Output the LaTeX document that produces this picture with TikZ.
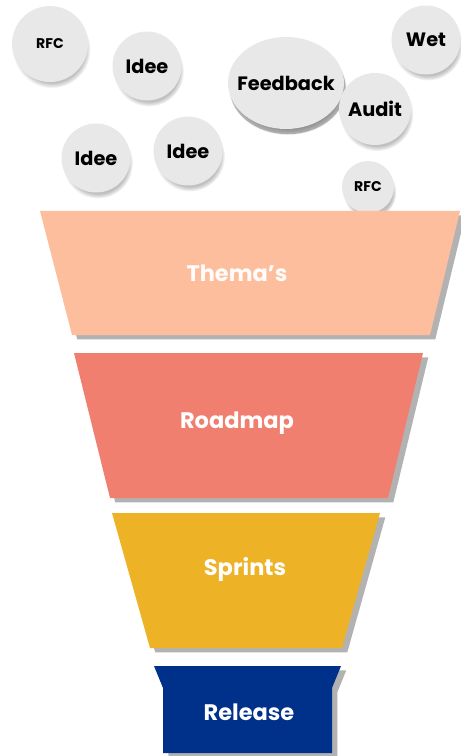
\documentclass[tikz,border=0pt]{standalone}
\usepackage{fontspec}
\setmainfont{Poppins}
\usetikzlibrary{shapes.geometric,shadows}
\definecolor{bubblegrey}{HTML}{E8E8E8}
\definecolor{themacol}{HTML}{FDBE9E}
\definecolor{roadcol}{HTML}{F07F70}
\definecolor{sprintcol}{HTML}{EEB226}
\definecolor{releasecol}{HTML}{00318A}

\begin{document}
\begin{tikzpicture}[x=0.02cm,y=-0.02cm]
\tikzset{bubble/.style = {shape=circle,fill=bubblegrey,inner sep=0pt,font=\bfseries\fontsize{11}{13}\selectfont,
  circular drop shadow={shadow xshift=1pt,shadow yshift=-3pt,shadow scale=1.02,opacity=.5}}}
\tikzset{stage/.style = {drop shadow={shadow xshift=3pt,shadow yshift=-2.5pt,opacity=.3,fill=black}}}
\tikzset{stagetext/.style = {text=white,font=\bfseries\fontsize{12.8}{15}\selectfont}}
\useasboundingbox (0,0) rectangle (460,756);

%ideas
\node[bubble,minimum size=1.52cm,font=\bfseries\fontsize{8}{10}\selectfont] (rfca) at (50,44) {RFC};
\node[bubble,minimum size=1.38cm] (ideea) at (147,66) {Idee};
\node[bubble,shape=ellipse,inner xsep=-8pt,minimum width=2.32cm,minimum height=1.84cm,
  drop shadow={shadow xshift=1pt,shadow yshift=-3pt,opacity=.25,fill=black}] (feedback) at (286,83) {Feedback};
\node[bubble,minimum size=1.38cm] (wet) at (426,40) {Wet};
\node[bubble,minimum size=1.44cm] (audit) at (375,109) {Audit};
\node[bubble,minimum size=1.38cm] (ideeb) at (96,158) {Idee};
\node[bubble,minimum size=1.38cm] (ideec) at (188,151) {Idee};
\node[bubble,minimum size=1.04cm,font=\bfseries\fontsize{8}{10}\selectfont] (rfcb) at (368,187) {RFC};

%funnel
\fill[themacol,stage] (40,211) -- (460,211) -- (430,335) -- (72,335) -- cycle;
\fill[roadcol,stage] (74,353) -- (423,353) -- (388,498) -- (110,498) -- cycle;
\fill[sprintcol,stage] (112,513) -- (380,513) -- (342,648) -- (150,648) -- cycle;
\fill[releasecol,stage] (154,666) -- (341,666) -- (332,688) -- (332,753) -- (163,753) -- (163,688) -- cycle;

\node[stagetext,text=white!95!themacol] (themas) at (237,273) {Thema’s};
\node[stagetext] (roadmap) at (237,423) {Roadmap};
\node[stagetext] (sprints) at (245,569) {Sprints};
\node[stagetext] (release) at (249,712) {Release};

\end{tikzpicture}
\end{document}
